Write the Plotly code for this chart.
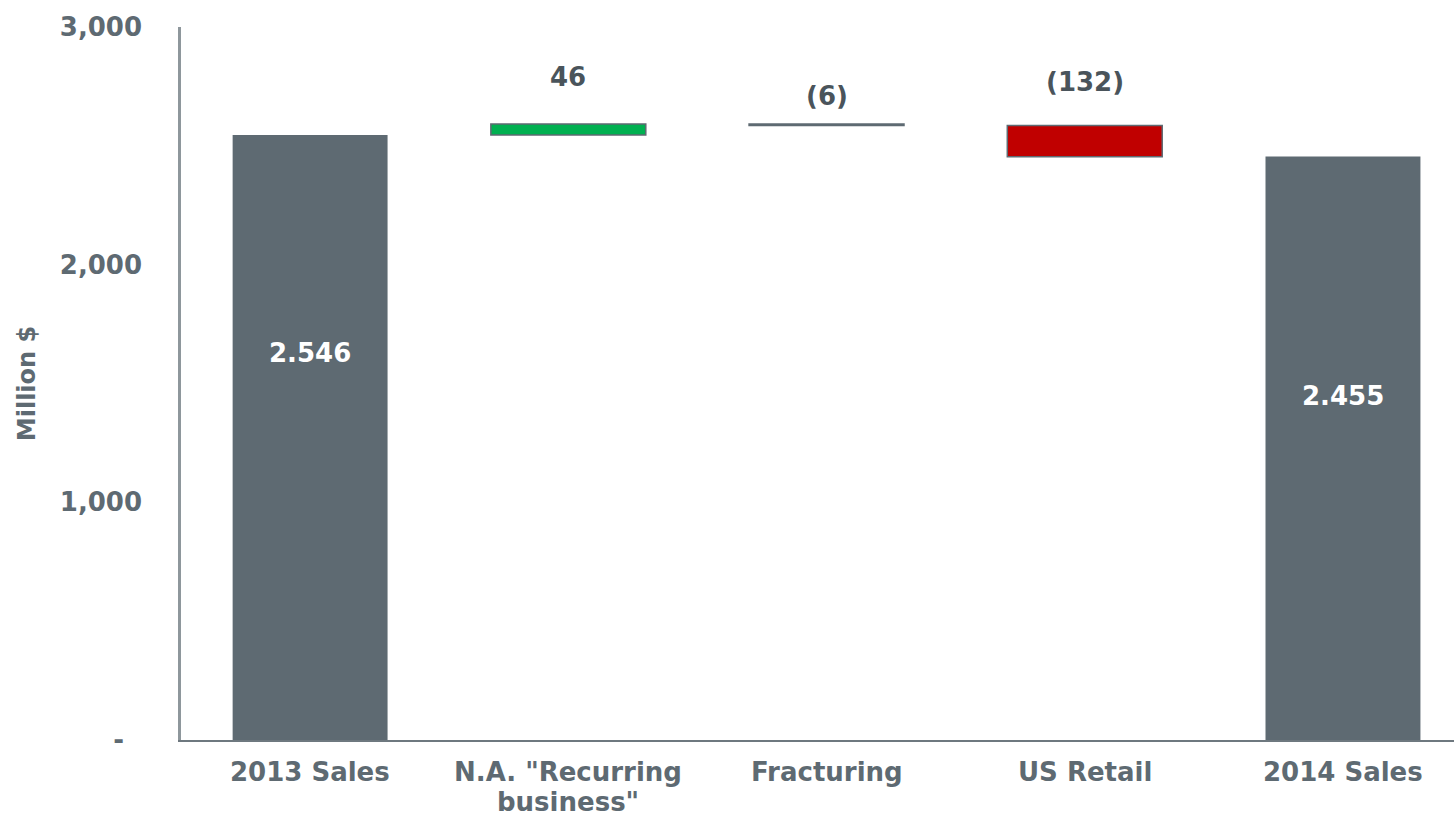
import plotly.graph_objects as go

# Sales bridge 2013 -> 2014 (million $)
categories = ["2013 Sales", "N.A. \"Recurring business\"", "Fracturing", "US Retail", "2014 Sales"]
category_lines = [["2013 Sales"], ["N.A. \"Recurring", "business\""], ["Fracturing"], ["US Retail"], ["2014 Sales"]]
measures = ["absolute", "relative", "relative", "relative", "absolute"]
values = [2546, 46, -6, -132, 2455]
value_labels = ["2.546", "46", "(6)", "(132)", "2.455"]

y_tickvals = [0, 1000, 2000, 3000]
y_ticktext = ["-\u00a0\u00a0", "1,000", "2,000", "3,000"]

GRAY = "#5E6A72"
TEXT = "#5E6A72"
GREEN = "#00B050"
RED = "#C00000"
FONT = "DejaVu Sans"
FS = 26

fig = go.Figure(go.Waterfall(
    x=categories,
    y=values,
    measure=measures,
    width=0.6,
    connector=dict(visible=False),
    increasing=dict(marker=dict(color=GREEN, line=dict(color=GRAY, width=1.5))),
    decreasing=dict(marker=dict(color=RED, line=dict(color=GRAY, width=1.5))),
    totals=dict(marker=dict(color=GRAY, line=dict(color=GRAY, width=0))),
    hoverinfo="skip",
))

# bar extents computed from the data to place the value labels
running = 0
tops, bottoms = [], []
for m, v in zip(measures, values):
    if m == "absolute":
        lo, hi = 0, v
        running = v
    else:
        lo, hi = sorted([running, running + v])
        running += v
    tops.append(hi)
    bottoms.append(lo)

# label placement: inside for totals (white), above for changes
label_shift = [84, 47, 28, 43, 52]
annotations = []
for i, (cat, m, lab) in enumerate(zip(categories, measures, value_labels)):
    if m == "absolute":
        annotations.append(dict(
            x=cat, y=(tops[i] + bottoms[i]) / 2, text=lab, showarrow=False,
            yshift=label_shift[i],
            font=dict(family=FONT, size=FS, color="white", weight="bold"),
        ))
    else:
        annotations.append(dict(
            x=cat, y=tops[i], text=lab, showarrow=False, yshift=label_shift[i],
            font=dict(family=FONT, size=FS, color="#4A545B", weight="bold"),
        ))

# category labels under the axis, one annotation per line for tight spacing
for cat, lines in zip(categories, category_lines):
    for j, line in enumerate(lines):
        annotations.append(dict(
            x=cat, y=0, text=line, showarrow=False, yanchor="middle",
            yshift=-32 - 30 * j,
            font=dict(family=FONT, size=FS, color=TEXT, weight="bold"),
        ))

fig.update_layout(
    width=1454, height=816,
    margin=dict(l=181, r=0, t=27, b=76),
    paper_bgcolor="white", plot_bgcolor="white",
    showlegend=False,
    annotations=annotations,
    font=dict(family=FONT, size=FS, color=TEXT, weight="bold"),
    xaxis=dict(
        type="category",
        range=[-0.5, 4.43],
        automargin=False,
        showgrid=False,
        showline=True, linecolor="#6E787F", linewidth=2,
        ticks="", showticklabels=False,
    ),
    yaxis=dict(
        range=[0, 3000],
        automargin=False,
        tickvals=y_tickvals, ticktext=y_ticktext,
        showgrid=False, zeroline=False,
        showline=True, linecolor="#8E979C", linewidth=2.5,
        ticks="", ticklabelstandoff=31,
        tickfont=dict(family=FONT, size=FS, color=TEXT, weight="bold"),
        title=dict(text="Million $", standoff=18,
                   font=dict(family=FONT, size=24, color=TEXT, weight="bold")),
    ),
)

fig.write_html("out.html")
